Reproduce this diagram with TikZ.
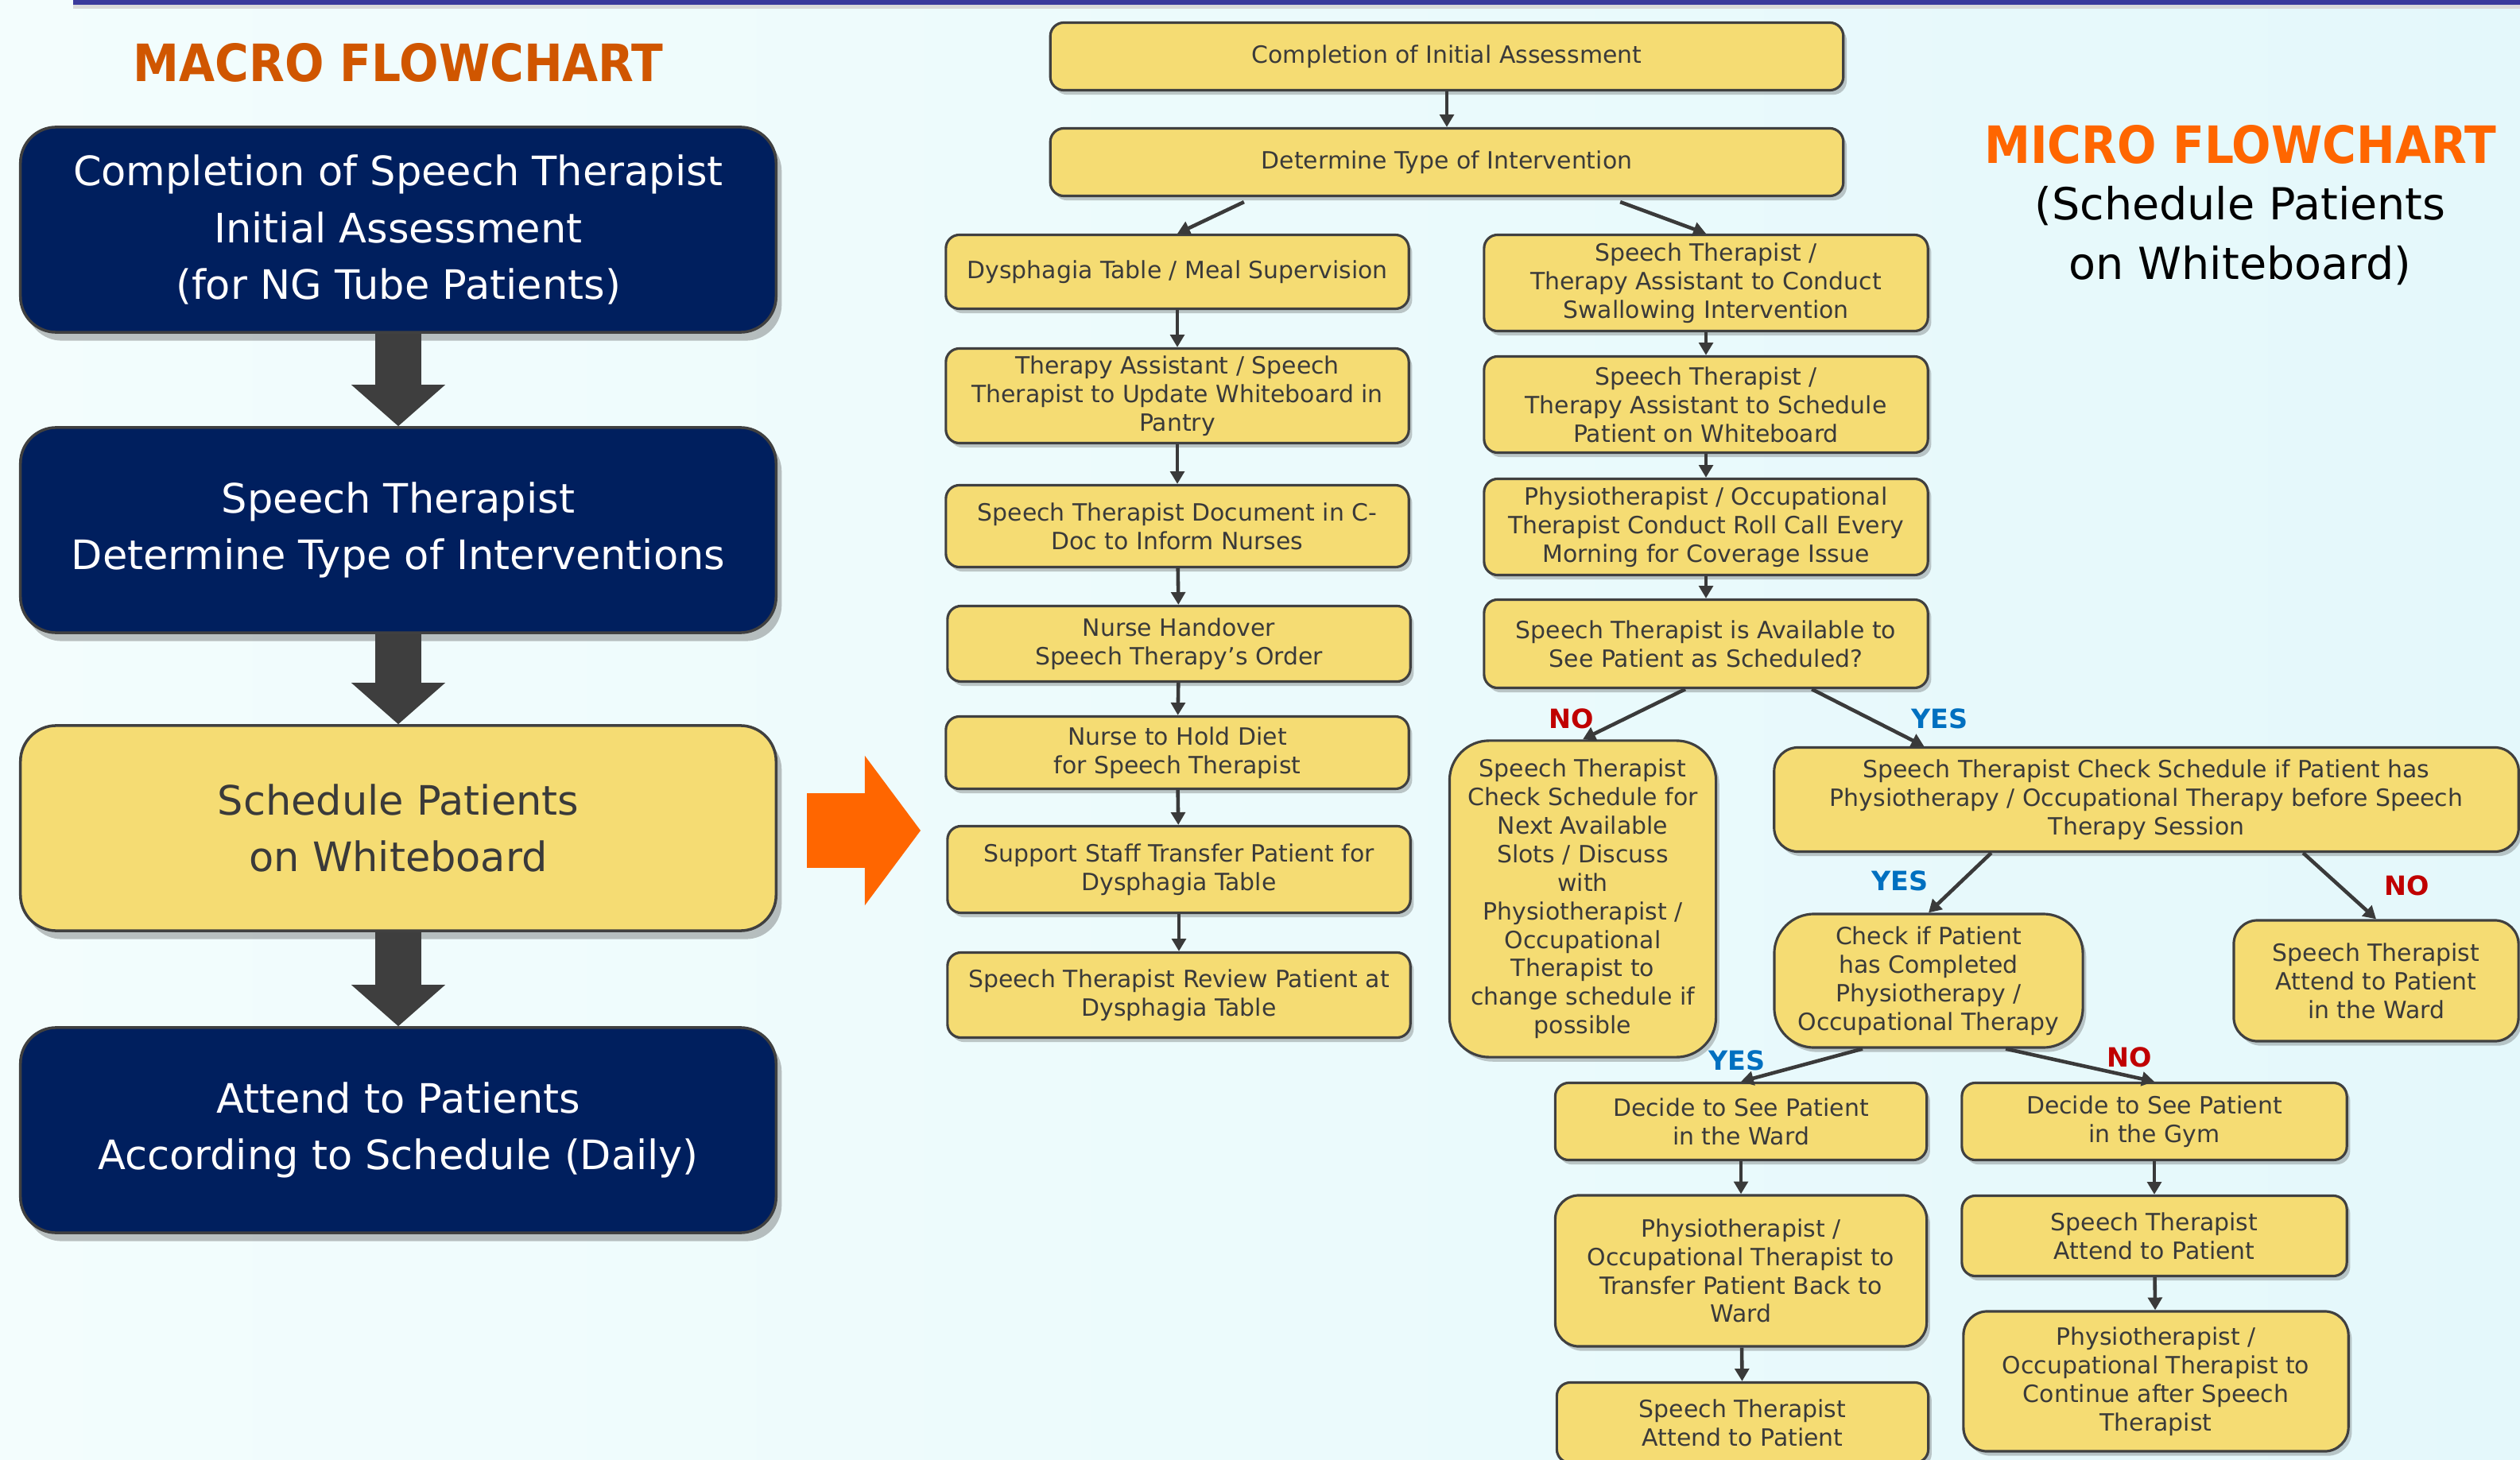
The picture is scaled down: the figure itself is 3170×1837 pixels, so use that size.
\documentclass[tikz,border=0pt]{standalone}
\usepackage{fontspec}
\setmainfont{DejaVu Sans}
\newfontfamily\condfont{DejaVu Sans Condensed}
\usetikzlibrary{positioning}
\usetikzlibrary {arrows.meta}
\usetikzlibrary{shadows}
\definecolor{boxfill}{RGB}{245,220,115}
\definecolor{boxline}{RGB}{64,64,64}
\definecolor{navy}{RGB}{0,31,94}
\definecolor{textgray}{RGB}{58,58,58}
\definecolor{arrowgray}{RGB}{62,62,62}
\definecolor{macroorange}{RGB}{208,86,0}
\definecolor{microorange}{RGB}{255,102,0}
\definecolor{yesblue}{RGB}{0,112,192}
\definecolor{nored}{RGB}{192,0,0}
\definecolor{topbar}{RGB}{58,58,156}
\definecolor{bgleft}{RGB}{243,253,253}
\definecolor{bgright}{RGB}{228,248,251}
\tikzset{macro/.style={rectangle,rounded corners=0.45cm,draw=boxline,line width=1pt,
fill=navy,text=white,align=center,minimum width=9.5cm,minimum height=2.58cm,
font=\fontsize{14.5}{20.2}\selectfont,
drop shadow={shadow xshift=2pt,shadow yshift=-3pt,opacity=0.35,fill=black!70}}}
\tikzset{macroyellow/.style={macro,fill=boxfill,text=textgray}}
\tikzset{micro/.style={rectangle,rounded corners=0.17cm,draw=boxline,line width=0.9pt,
fill=boxfill,text=textgray,align=center,inner sep=2pt,
font=\fontsize{8.5}{10.2}\selectfont,
drop shadow={shadow xshift=1.2pt,shadow yshift=-1.6pt,opacity=0.3,fill=black!70}}}
\tikzset{microsoft/.style={micro,rounded corners=0.3cm}}
\tikzset{microround/.style={micro,rounded corners=0.5cm}}
\tikzset{flowline/.style={draw=textgray,line width=1.3pt,-{Triangle[length=4.5pt,width=5pt]}}}
\tikzset{macroarrow/.style={draw=arrowgray,line width=0.57cm,
-{Triangle[length=0.52cm,width=1.18cm,line width=0pt]}}}
\tikzset{orangearrow/.style={draw=microorange,line width=0.93cm,
-{Triangle[length=0.70cm,width=1.88cm,line width=0pt]}}}
\tikzset{yeslabel/.style={text=yesblue,inner sep=0pt,font=\bfseries\fontsize{9.5}{10}\selectfont}}
\tikzset{nolabel/.style={yeslabel,text=nored}}
\tikzset{bigtitle/.style={inner sep=0pt,font=\condfont\bfseries\fontsize{18.4}{20}\selectfont}}

\begin{document}
\begin{tikzpicture}[x=0.01cm,y=-0.01cm]

        \useasboundingbox (0,0) rectangle (3170,1837);
        \shade[left color=bgleft,right color=bgright] (0,0) rectangle (3170,1837);
        \fill[black!15] (92,6) rectangle (3170,11);
        \fill[topbar] (92,0) rectangle (3170,6);

        \node[bigtitle,text=macroorange] (titleMacro) at (501,79) {MACRO FLOWCHART};
        \node[bigtitle,text=microorange] (titleMicro) at (2818,182) {MICRO FLOWCHART};
        \node[align=center,inner sep=0pt,font=\fontsize{15.8}{21.3}\selectfont] (titleSub) at (2818,297) {(Schedule Patients\\on Whiteboard)};

        \node[macro] (macA) at (501,289) {Completion of Speech Therapist\\Initial Assessment\\(for NG Tube Patients)};
        \node[macro] (macB) at (501,667) {Speech Therapist\\Determine Type of Interventions};
        \node[macroyellow] (macC) at (501,1042) {Schedule Patients\\on Whiteboard};
        \node[macro] (macD) at (501,1422) {Attend to Patients\\According to Schedule (Daily)};

        \draw [macroarrow] (macA.south) -- (macB.north);
        \draw [macroarrow] (macB.south) -- (macC.north);
        \draw [macroarrow] (macC.south) -- (macD.north);

        \coordinate (orangeS) at (1015,1045);
        \coordinate (orangeE) at (1158,1045);
        \draw [orangearrow] (orangeS) -- (orangeE);

        \node[micro,minimum width=9.97cm,minimum height=0.85cm] (boxInit) at (1820,71) {Completion of Initial Assessment};
        \node[micro,minimum width=9.97cm,minimum height=0.85cm] (boxType) at (1820,204) {Determine Type of Intervention};

        \node[micro,minimum width=5.82cm,minimum height=0.93cm] (boxDysA) at (1481,342) {Dysphagia Table / Meal Supervision};
        \node[micro,minimum width=5.82cm,minimum height=1.19cm] (boxDysB) at (1481,498) {Therapy Assistant / Speech\\Therapist to Update Whiteboard in\\Pantry};
        \node[micro,minimum width=5.82cm,minimum height=1.03cm] (boxDysC) at (1481,662) {Speech Therapist Document in C-\\Doc to Inform Nurses};
        \node[micro,minimum width=5.82cm,minimum height=0.95cm] (boxDysD) at (1483,810) {Nurse Handover\\Speech Therapy’s Order};
        \node[micro,minimum width=5.82cm,minimum height=0.91cm] (boxDysE) at (1481,947) {Nurse to Hold Diet\\for Speech Therapist};
        \node[micro,minimum width=5.82cm,minimum height=1.09cm] (boxDysF) at (1483,1094) {Support Staff Transfer Patient for\\Dysphagia Table};
        \node[micro,minimum width=5.82cm,minimum height=1.07cm] (boxDysG) at (1483,1252) {Speech Therapist Review Patient at\\Dysphagia Table};

        \node[micro,minimum width=5.58cm,minimum height=1.21cm] (boxSwaA) at (2146,356) {Speech Therapist /\\Therapy Assistant to Conduct\\Swallowing Intervention};
        \node[micro,minimum width=5.58cm,minimum height=1.21cm] (boxSwaB) at (2146,509) {Speech Therapist /\\Therapy Assistant to Schedule\\Patient on Whiteboard};
        \node[micro,minimum width=5.58cm,minimum height=1.21cm] (boxSwaC) at (2146,663) {Physiotherapist / Occupational\\Therapist Conduct Roll Call Every\\Morning for Coverage Issue};
        \node[micro,minimum width=5.58cm,minimum height=1.11cm] (boxAvail) at (2146,810) {Speech Therapist is Available to\\See Patient as Scheduled?};

        \node[microround,minimum width=3.35cm,minimum height=3.98cm] (boxSlot) at (1991,1131) {Speech Therapist\\Check Schedule for\\Next Available\\Slots / Discuss\\with\\Physiotherapist /\\Occupational\\Therapist to\\change schedule if\\possible};
        \node[microsoft,minimum width=9.36cm,minimum height=1.31cm] (boxCheck) at (2700,1006) {Speech Therapist Check Schedule if Patient has\\Physiotherapy / Occupational Therapy before Speech\\Therapy Session};
        \node[microround,minimum width=3.88cm,minimum height=1.68cm] (boxDone) at (2426,1234) {Check if Patient\\has Completed\\Physiotherapy /\\Occupational Therapy};
        \node[microsoft,minimum width=3.58cm,minimum height=1.52cm] (boxWardA) at (2989,1234) {Speech Therapist\\Attend to Patient\\in the Ward};

        \node[micro,minimum width=4.67cm,minimum height=0.97cm] (boxSeeWard) at (2190,1411) {Decide to See Patient\\in the Ward};
        \node[micro,minimum width=4.84cm,minimum height=0.97cm] (boxSeeGym) at (2710,1411) {Decide to See Patient\\in the Gym};
        \node[microsoft,minimum width=4.67cm,minimum height=1.90cm] (boxBack) at (2190,1599) {Physiotherapist /\\Occupational Therapist to\\Transfer Patient Back to\\Ward};
        \node[micro,minimum width=4.84cm,minimum height=1.01cm] (boxAttGym) at (2710,1555) {Speech Therapist\\Attend to Patient};
        \node[micro,minimum width=4.67cm,minimum height=1.01cm] (boxAttWard) at (2192,1790) {Speech Therapist\\Attend to Patient};
        \node[microsoft,minimum width=4.84cm,minimum height=1.76cm] (boxCont) at (2712,1738) {Physiotherapist /\\Occupational Therapist to\\Continue after Speech\\Therapist};

        \node[nolabel] (noAvail) at (1977,904) {NO};
        \node[yeslabel] (yesAvail) at (2440,904) {YES};
        \node[yeslabel] (yesCheck) at (2390,1108) {YES};
        \node[nolabel] (noCheck) at (3028,1114) {NO};
        \node[yeslabel] (yesDone) at (2185,1334) {YES};
        \node[nolabel] (noDone) at (2679,1330) {NO};

        \draw [flowline] (boxInit) -- (boxType);
        \draw [flowline] ([xshift=-2.55cm,yshift=-0.06cm]boxType.south) -- (boxDysA.north);
        \draw [flowline] ([xshift=2.18cm,yshift=-0.06cm]boxType.south) -- (boxSwaA.north);

        \draw [flowline] (boxDysA) -- (boxDysB);
        \draw [flowline] (boxDysB) -- (boxDysC);
        \draw [flowline] (boxDysC) -- (boxDysD);
        \draw [flowline] (boxDysD) -- (boxDysE);
        \draw [flowline] (boxDysE) -- (boxDysF);
        \draw [flowline] (boxDysF) -- (boxDysG);

        \draw [flowline] (boxSwaA) -- (boxSwaB);
        \draw [flowline] (boxSwaB) -- (boxSwaC);
        \draw [flowline] (boxSwaC) -- (boxAvail);

        \draw [flowline] ([xshift=-0.26cm]boxAvail.south) -- (boxSlot.north);
        \draw [flowline] ([xshift=1.33cm]boxAvail.south) -- ([xshift=1.9cm]boxCheck.north west);
        \draw [flowline] ([xshift=-1.95cm]boxCheck.south) -- (boxDone.north);
        \draw [flowline] ([xshift=1.97cm]boxCheck.south) -- (boxWardA.north);
        \draw [flowline] ([xshift=-0.83cm]boxDone.south) -- (boxSeeWard.north);
        \draw [flowline] ([xshift=0.97cm]boxDone.south) -- (boxSeeGym.north);

        \draw [flowline] (boxSeeWard) -- (boxBack);
        \draw [flowline] (boxBack) -- (boxAttWard);
        \draw [flowline] (boxSeeGym) -- (boxAttGym);
        \draw [flowline] (boxAttGym) -- (boxCont);

    \end{tikzpicture}
\end{document}
